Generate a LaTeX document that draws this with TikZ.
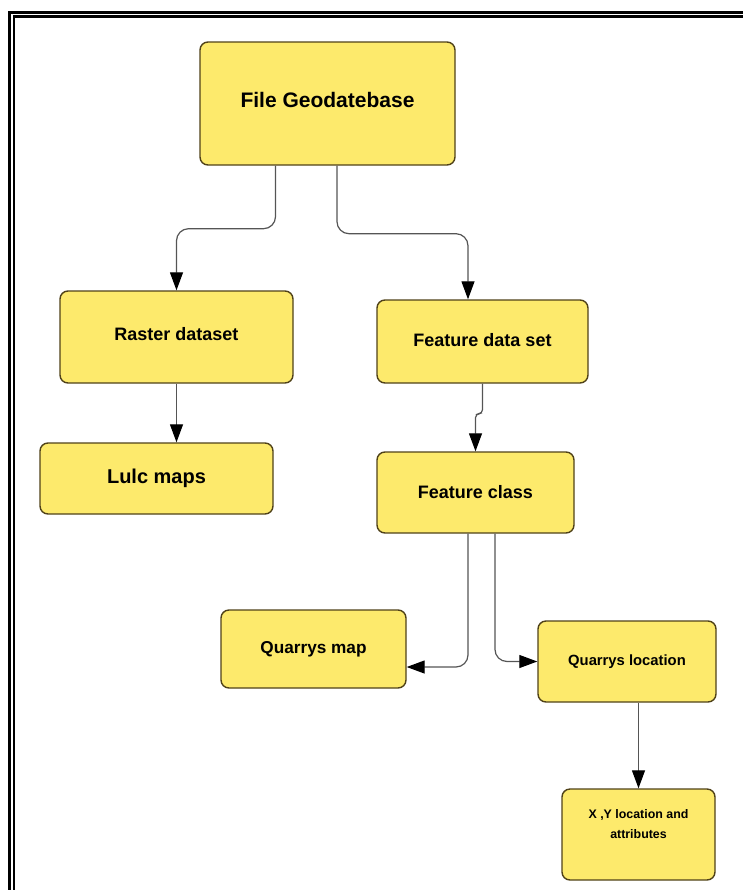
\documentclass[tikz,border=0pt]{standalone}
\usepackage{fontspec}
\setmainfont{Liberation Sans}
\usepackage{tikz}
\usetikzlibrary{positioning}
\usetikzlibrary{arrows.meta}
\usepackage{xcolor}

\definecolor{boxfill}{RGB}{253,234,108}
\definecolor{boxline}{RGB}{80,66,25}
\definecolor{linkgray}{RGB}{85,85,85}

\tikzset{
    box/.style={draw=boxline, fill=boxfill, line width=0.7pt, rounded corners=4pt,
        inner sep=0pt, align=center, font=\bfseries},
    link/.style={draw=linkgray, line width=0.6pt, rounded corners=6pt,
        -{Triangle[length=9pt,width=6.5pt,color=black]}},
}

\begin{document}
\begin{tikzpicture}[x=0.5pt,y=-0.5pt]
        \useasboundingbox (0,0) rectangle (743,890);
        \begin{scope}
            \clip (0,0) rectangle (743,890);
            \draw[line width=1.5pt] (9.5,12.5) rectangle (780,920);
            \draw[line width=1.4pt] (14,16.8) rectangle (775,915);
        \end{scope}

        % boxes
        \node[box, minimum width=127.5pt, minimum height=61.5pt, text depth=3.5pt, font=\fontsize{10.5}{12}\bfseries] (fgdb) at (327.5,103.5) {File Geodatebase};
        \node[box, minimum width=116.5pt, minimum height=46pt, text depth=3pt, font=\fontsize{9}{11}\bfseries] (raster) at (176.5,337) {Raster dataset};
        \node[box, minimum width=116.5pt, minimum height=35.5pt, font=\fontsize{10}{12}\bfseries] (lulc) at (156.5,478.5) {Lulc maps};
        \node[box, minimum width=105.5pt, minimum height=41.5pt, text depth=2pt, font=\fontsize{9}{11}\bfseries] (fdset) at (482.5,341.5) {Feature data set};
        \node[box, minimum width=98.5pt, minimum height=40.5pt, font=\fontsize{9}{11}\bfseries] (fclass) at (475.5,492.5) {Feature class};
        \node[box, minimum width=92.5pt, minimum height=39pt, font=\fontsize{8.6}{10}\bfseries] (qmap) at (313.5,649) {Quarrys map};
        \node[box, minimum width=89pt, minimum height=40.5pt, font=\fontsize{7.4}{9}\bfseries] (qloc) at (627,661.5) {Quarrys location};
        \node[box, minimum width=76.5pt, minimum height=45.5pt, text depth=11pt, font=\fontsize{6.2}{10}\bfseries] (xyloc) at (638.5,834.5) {X ,Y location and\\attributes};

        % connectors
        \draw[link] ([xshift=-26pt]fgdb.south) -- ++(0,-31.5pt) -| (raster.north);
        \draw[link] ([xshift=4.75pt]fgdb.south) -- ++(0,-34pt) -| ([xshift=-7.25pt]fdset.north);
        \draw[link] (raster.south) -- (raster.south |- lulc.north);
        \draw[link, rounded corners=2pt] (fdset.south) -- ++(0,-15pt) -| (fclass.north);
        \draw[link] ([xshift=-3.75pt]fclass.south) |- ([yshift=-9pt]qmap.east);
        \draw[link] ([xshift=9.75pt]fclass.south) |- (qloc.west);
        \draw[link] (qloc.south -| xyloc.north) -- (xyloc.north);
    \end{tikzpicture}
\end{document}
